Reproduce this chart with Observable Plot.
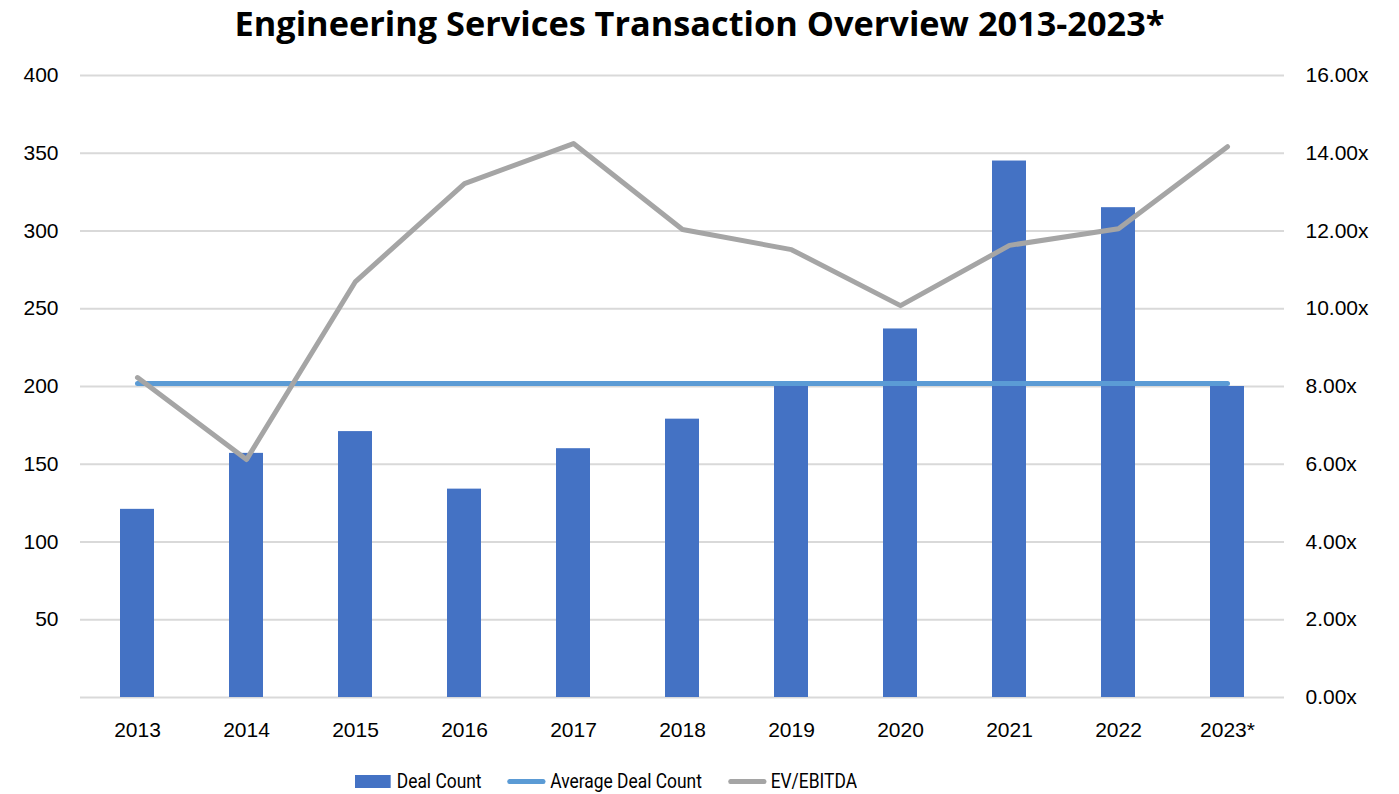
<!DOCTYPE html>
<html>
<head>
<meta charset="utf-8">
<script src="https://cdn.jsdelivr.net/npm/d3@7"></script>
<script src="https://cdn.jsdelivr.net/npm/@observablehq/plot@0.6"></script>
<style>
  html, body { margin: 0; padding: 0; background: #fff; }
  #title { height: 48px; line-height: 46px; text-align: center; font-family: "Open Sans", sans-serif; font-weight: 700; font-size: 34.3px; color: #000; }
  #legend { position: absolute; left: 355px; top: 768px; display: flex; align-items: center; font-family: Roboto, sans-serif; font-size: 20px; color: #000; height: 26px; transform: scaleX(0.87); transform-origin: left center; white-space: nowrap; }
  .item { display: flex; align-items: center; }
  .rect { width: 41px; height: 13px; background: #4472c4; margin-right: 7px; }
  .ln { width: 44px; height: 5px; border-radius: 3px; margin-right: 5px; }
  .gap { width: 30px; }
</style>
</head>
<body>
<div id="title">Engineering Services Transaction Overview 2013-2023*</div>
<div id="chart"></div>
<div id="legend">
  <div class="item"><div class="rect"></div><span>Deal Count</span></div>
  <div class="gap"></div>
  <div class="item"><div class="ln" style="background:#5b9bd5"></div><span>Average Deal Count</span></div>
  <div class="gap"></div>
  <div class="item"><div class="ln" style="background:#a5a5a5"></div><span>EV/EBITDA</span></div>
</div>
<script>
const years = ["2013","2014","2015","2016","2017","2018","2019","2020","2021","2022","2023*"];
const dealCount = [121, 157, 171, 134, 160, 179, 202, 237, 345, 315, 200];
const evEbitda = [8.23, 6.12, 10.7, 13.22, 14.25, 12.04, 11.52, 10.08, 11.63, 12.06, 14.17];
const leftTicks = [50, 100, 150, 200, 250, 300, 350, 400];
const rightTicks = [0, 2, 4, 6, 8, 10, 12, 14, 16];

const avgDeal = d3.mean(dealCount);
const ratio = 400 / 16;

const bars = years.map((y, i) => ({year: y, count: dealCount[i]}));
const ev = years.map((y, i) => ({year: y, v: evEbitda[i] * ratio}));
const avgLine = [{year: years[0], v: avgDeal}, {year: years[years.length - 1], v: avgDeal}];

const font = "'Liberation Sans', Arial, sans-serif";
const chart = Plot.plot({
  width: 1399,
  height: 710,
  marginTop: 27,
  marginBottom: 61,
  marginLeft: 80,
  marginRight: 115,
  style: {fontFamily: font, fontSize: "21px", color: "#000"},
  x: {domain: years, paddingInner: 0.69, paddingOuter: 0.345, label: null},
  y: {domain: [0, 400], label: null},
  marks: [
    Plot.gridY(d3.range(0, 401, 50), {stroke: "#d9d9d9", strokeOpacity: 1, strokeWidth: 2}),
    Plot.axisY(leftTicks, {anchor: "left", tickSize: 0, tickPadding: 22, label: null, fontSize: 21, fontFamily: font}),
    Plot.axisY(rightTicks.map(d => d * ratio), {anchor: "right", tickSize: 0, tickPadding: 21, label: null, fontSize: 21, fontFamily: font, tickFormat: d => (d / ratio).toFixed(2) + "x"}),
    Plot.axisX({tickSize: 0, tickPadding: 25, label: null, fontSize: 21, fontFamily: font}),
    Plot.barY(bars, {x: "year", y: "count", fill: "#4472c4"}),
    Plot.line(avgLine, {x: "year", y: "v", stroke: "#5b9bd5", strokeWidth: 5, strokeLinecap: "round"}),
    Plot.line(ev, {x: "year", y: "v", stroke: "#a5a5a5", strokeWidth: 5, strokeLinecap: "round", strokeLinejoin: "round"})
  ]
});
document.getElementById("chart").appendChild(chart);
</script>
</body>
</html>
